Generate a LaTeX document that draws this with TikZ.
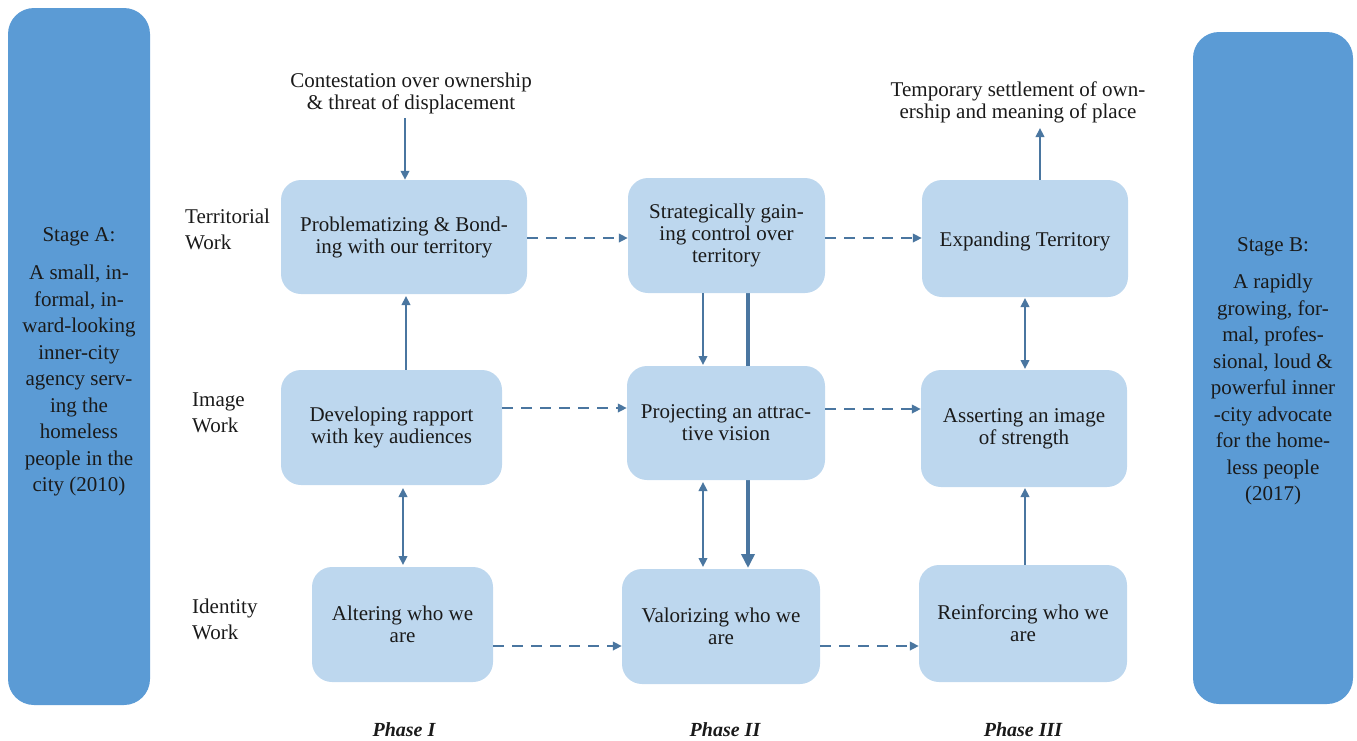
\documentclass[tikz,border=0pt]{standalone}
\usepackage{fontspec}
\setmainfont{Liberation Serif}
\usetikzlibrary{arrows.meta}
\pgfdeclarelayer{background}
\pgfsetlayers{background,main}
\definecolor{stageblue}{HTML}{5B9BD5}
\definecolor{boxblue}{HTML}{BDD7EE}
\definecolor{arrowblue}{HTML}{4A76A0}
\definecolor{txt}{HTML}{1A1A1A}
\tikzset{
  stagebox/.style={fill=stageblue, rounded corners=26pt, align=center, text=txt,
    font=\fontsize{21pt}{26.5pt}\selectfont, inner sep=0pt},
  workbox/.style={fill=boxblue, rounded corners=20pt, align=center, text=txt,
    font=\fontsize{21pt}{22pt}\selectfont, inner sep=0pt,
    execute at begin node={\rule{0pt}{20pt}}},
  plain/.style={align=center, text=txt, font=\fontsize{21pt}{22pt}\selectfont, inner sep=0pt},
  rowlabel/.style={align=left, text=txt, font=\fontsize{21pt}{26pt}\selectfont, inner sep=0pt, anchor=north west},
  phase/.style={text=txt, font=\fontsize{20pt}{22pt}\selectfont\bfseries\itshape, inner sep=0pt},
  arr/.style={draw=arrowblue, line width=2.2pt, -{Triangle[length=9pt,width=8.5pt]}},
  darr/.style={draw=arrowblue, line width=2.2pt, {Triangle[length=9pt,width=8.5pt]}-{Triangle[length=9pt,width=8.5pt]}},
  dasharr/.style={draw=arrowblue, line width=2.2pt, dash pattern=on 11pt off 8pt, -{Triangle[length=9pt,width=8.5pt]}},
  thickarr/.style={draw=arrowblue, line width=4pt, -{Triangle[length=14pt,width=13pt]}},
}
\begin{document}
\begin{tikzpicture}[x=1pt,y=-1pt]
\useasboundingbox (0,0) rectangle (1357,740);
% stage boxes
\node[stagebox, minimum width=142pt, minimum height=697pt] (sa) at (79,356.5)
  {\rule{0pt}{25pt}Stage A:\\[12pt] A small, in-\\ formal, in-\\ ward-looking\\ inner-city\\ agency serv-\\ ing the\\ homeless\\ people in the\\ city (2010)};
\node[stagebox, minimum width=160pt, minimum height=672pt] (sb) at (1273,368)
  {\rule{0pt}{20pt}Stage B:\\[11pt] A rapidly\\ growing, for-\\ mal, profes-\\ sional, loud \&\\ powerful inner\\ -city advocate\\ for the home-\\ less people\\ (2017)};
% row labels
\node[rowlabel] (lt) at (185,209) {Territorial\\ Work};
\node[rowlabel] (li) at (192,393) {Image\\ Work};
\node[rowlabel] (ld) at (192,599) {Identity\\ Work};
% work boxes
\node[workbox, minimum width=246pt, minimum height=114pt] (t1) at (404,237) {Problematizing \& Bond-\\ ing with our territory};
\node[workbox, minimum width=221pt, minimum height=115pt] (i1) at (391.5,427.5) {Developing rapport\\ with key audiences};
\node[workbox, minimum width=181pt, minimum height=115pt] (d1) at (402.5,624.5) {Altering who we\\ are};
\node[workbox, minimum width=197pt, minimum height=115pt] (t2) at (726.5,235.5) {Strategically gain-\\ ing control over\\ territory};
\node[workbox, minimum width=198pt, minimum height=114pt] (i2) at (726,423) {Projecting an attrac-\\ tive vision};
\node[workbox, minimum width=198pt, minimum height=115pt] (d2) at (721,626.5) {Valorizing who we\\ are};
\node[workbox, minimum width=206pt, minimum height=117pt] (t3) at (1025,238.5) {Expanding Territory};
\node[workbox, minimum width=206pt, minimum height=117pt] (i3) at (1024,428.5) {Asserting an image\\ of strength};
\node[workbox, minimum width=208pt, minimum height=117pt] (d3) at (1023,623.5) {Reinforcing who we\\ are};
% top texts
\node[plain] (contest) at (411,93) {Contestation over ownership\\ \& threat of displacement};
\node[plain] (settle) at (1018,102) {Temporary settlement of own-\\ ership and meaning of place};
\coordinate (cin) at (405,118);
\coordinate (cout) at (1040,128);
% phase labels
\node[phase] (p1) at (404,730) {Phase I};
\node[phase] (p2) at (725,730) {Phase II};
\node[phase] (p3) at (1023,730) {Phase III};
% connectors
\draw[arr] (cin) -- (cin |- t1.north);
\draw[arr] (t3.north -| cout) -- (cout);
\draw[arr] (i1.north -| 406,0) -- (406,296);
\draw[darr] (403,488) -- (403,565);
\draw[arr] (t2.south -| 703,0) -- (703,365);
\draw[darr] (703,482) -- (703,567);
\begin{pgfonlayer}{background}
\draw[thickarr] (t2.south -| 748,0) -- (748,568);
\end{pgfonlayer}
\draw[darr] (1025,298) -- (1025,369);
\draw[arr] (d3.north -| 1025,0) -- (1025,488);
% dashed horizontal
\draw[dasharr] (t1.east |- 0,238) -- (t2.west |- 0,238);
\draw[dasharr] (t2.east |- 0,238) -- (t3.west |- 0,238);
\draw[dasharr] (i1.east |- 0,408) -- (i2.west |- 0,408);
\draw[dasharr] (i2.east |- 0,409) -- (i3.west |- 0,409);
\draw[dasharr] (d1.east |- 0,646) -- (d2.west |- 0,646);
\draw[dasharr] (d2.east |- 0,646) -- (d3.west |- 0,646);
\end{tikzpicture}
\end{document}
